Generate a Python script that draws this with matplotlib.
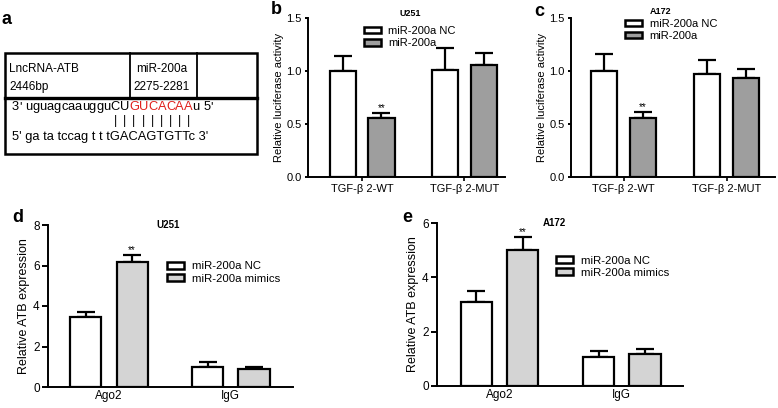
import numpy as np
import matplotlib
matplotlib.use("Agg")
import matplotlib.pyplot as plt
from matplotlib.patches import Rectangle

plt.rcParams["font.family"] = ["Liberation Sans", "DejaVu Sans"]

# luciferase panels (b, c)
luc_groups = ["TGF-\u03b2 2-WT", "TGF-\u03b2 2-MUT"]
luc_labels = ["miR-200a NC", "miR-200a"]
u251_luc = [[1.00, 1.01], [0.56, 1.06]]
u251_luc_err = [[0.14, 0.21], [0.04, 0.11]]
a172_luc = [[1.00, 0.97], [0.56, 0.93]]
a172_luc_err = [[0.16, 0.13], [0.05, 0.09]]

# RIP panels (d, e)
rip_groups = ["Ago2", "IgG"]
rip_labels = ["miR-200a NC", "miR-200a mimics"]
u251_rip = [[3.45, 1.00], [6.15, 0.90]]
u251_rip_err = [[0.25, 0.25], [0.35, 0.10]]
a172_rip = [[3.10, 1.05], [5.00, 1.17]]
a172_rip_err = [[0.40, 0.25], [0.50, 0.18]]

# panel a text
seq_top_pre = "3' uguagcaauggu"
seq_top_black = "CU"
seq_top_red = "GUCACAA"
seq_top_post = "u 5'"
seq_bottom = "5' ga ta tccag t t tGACAGTGTTc 3'"

W, H = 778.0, 408.0
fig = plt.figure(figsize=(W / 100, H / 100), dpi=100)


def frect(x0, y_top, x1, y_bot):
    return [x0 / W, 1 - y_bot / H, (x1 - x0) / W, (y_bot - y_top) / H]


def bar_panel(rect, groups, labels, vals, errs, fill, title, ylabel, ylim, yticks,
              ytick_fmt, xlim, legend_loc, title_xy, title_fs, letter, letter_pos,
              ylabel_fs, xtick_len, ytick_len, tick_fs, xtick_fs, leg_fs):
    ax = fig.add_axes(rect)
    x = np.arange(len(groups))
    w = 0.255
    offs = [-0.19, 0.19]
    colors = ["white", fill]
    for i in range(2):
        ax.bar(x + offs[i], vals[i], w, color=colors[i], edgecolor="black", lw=1.6,
               label=labels[i], zorder=2)
        ax.errorbar(x + offs[i], vals[i], yerr=[np.zeros(len(groups)), errs[i]],
                    fmt="none", ecolor="black", elinewidth=1.6, capsize=6.5,
                    capthick=1.6, zorder=1)
    top = vals[1][0] + errs[1][0]
    ax.text(x[0] + offs[1], top, "**", ha="center", va="bottom", fontsize=7)
    ax.set_xlim(*xlim)
    ax.set_ylim(*ylim)
    ax.set_yticks(yticks)
    ax.set_yticklabels([ytick_fmt % t for t in yticks])
    ax.set_xticks(x)
    ax.set_xticklabels(groups)
    ax.tick_params(axis="x", length=xtick_len, width=1.2, labelsize=xtick_fs, pad=2)
    ax.tick_params(axis="y", length=ytick_len, width=1.4, labelsize=tick_fs, pad=2)
    for s in ["top", "right"]:
        ax.spines[s].set_visible(False)
    for s in ["left", "bottom"]:
        ax.spines[s].set_linewidth(1.4)
    ax.set_ylabel(ylabel, fontsize=ylabel_fs, labelpad=2)
    ax.text(title_xy[0], title_xy[1], title, transform=ax.transAxes, ha="center",
            va="center", fontsize=title_fs, fontweight="bold")
    leg = ax.legend(loc="upper left", bbox_to_anchor=legend_loc, frameon=False,
                    fontsize=leg_fs, handlelength=1.5, handleheight=0.55,
                    handletextpad=0.7, labelspacing=0.2, borderpad=0,
                    borderaxespad=0)
    for h in leg.legend_handles:
        h.set_linewidth(1.8)
    fig.text(letter_pos[0] / W, 1 - letter_pos[1] / H, letter, fontsize=13,
             fontweight="bold", ha="left", va="center")
    return ax


bar_panel(frect(308, 18, 505, 177), luc_groups, luc_labels, u251_luc, u251_luc_err,
          "#9e9e9e", "U251", "Relative luciferase activity", (0, 1.5),
          [0, 0.5, 1.0, 1.5], "%.1f", (-0.53, 1.40), (0.284, 0.95), (0.52, 1.03),
          6.5, "b", (271, 10), 8, 3, 2.5, 8, 8, 8)
bar_panel(frect(571, 18, 775, 177), luc_groups, luc_labels, a172_luc, a172_luc_err,
          "#9e9e9e", "A172", "Relative luciferase activity", (0, 1.5),
          [0, 0.5, 1.0, 1.5], "%.1f", (-0.51, 1.47), (0.265, 0.995), (0.44, 1.04),
          6.5, "c", (534, 12), 8, 3, 2.5, 8, 8, 8)
bar_panel(frect(48, 225, 293, 387), rip_groups, rip_labels, u251_rip, u251_rip_err,
          "#d4d4d4", "U251", "Relative ATB expression", (0, 8),
          [0, 2, 4, 6, 8], "%d", (-0.50, 1.51), (0.486, 0.775), (0.49, 1.0),
          7, "d", (12, 217), 9, 0, 4, 8.5, 8.5, 8.2)
bar_panel(frect(437, 223, 683, 386), rip_groups, rip_labels, a172_rip, a172_rip_err,
          "#d4d4d4", "A172", "Relative ATB expression", (0, 6),
          [0, 2, 4, 6], "%d", (-0.51, 1.50), (0.484, 0.80), (0.476, 1.0),
          7, "e", (402, 218), 9, 0, 4, 8.5, 8.5, 8.2)

# panel a: binding site diagram, in pixel coordinates
axa = fig.add_axes([0, 0, 1, 1])
axa.set_xlim(0, W)
axa.set_ylim(H, 0)
axa.axis("off")
lw = 1.8
axa.add_patch(Rectangle((5, 53), 252, 101, fill=False, lw=lw, ec="black"))
axa.plot([5, 257], [98, 98], color="black", lw=lw + 0.6)
axa.plot([130, 130], [53, 98], color="black", lw=1.3)
axa.plot([197, 197], [53, 98], color="black", lw=1.3)
fs = 8.5
axa.text(9, 69, "LncRNA-ATB", fontsize=fs, va="center")
axa.text(9, 87, "2446bp", fontsize=fs, va="center")
axa.text(136, 69, "miR-200a", fontsize=fs, va="center")
axa.text(133, 87, "2275-2281", fontsize=fs, va="center")
fig.text(1 / W, 1 - 20 / H, "a", fontsize=13, fontweight="bold", va="center")

renderer = fig.canvas.get_renderer()
sfs = 9.3
xpos = 12
pair_centers = []
for s, c in [(seq_top_pre, "black"), (seq_top_black, "black"),
             (seq_top_red, "#e0201b"), (seq_top_post, "black")]:
    for ch in s:
        t = axa.text(xpos, 107, ch, fontsize=sfs, va="center", color=c)
        wpx = t.get_window_extent(renderer).width
        if s in (seq_top_black, seq_top_red):
            pair_centers.append(xpos + wpx / 2)
        xpos += wpx if ch != " " else renderer.get_text_width_height_descent(
            " ", t.get_fontproperties(), ismath=False)[0]
for cx in pair_centers:
    axa.text(cx, 121, "|", fontsize=sfs, ha="center", va="center")
axa.text(12, 137, seq_bottom, fontsize=sfs, va="center")

fig.savefig("out.png", dpi=100)
